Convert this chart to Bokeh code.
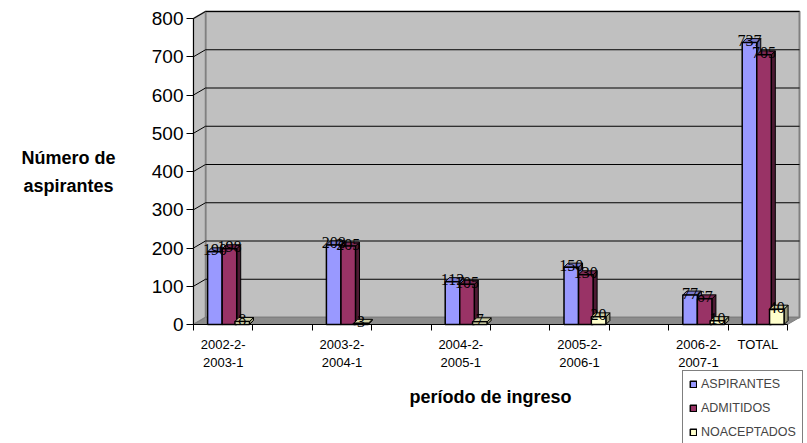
from bokeh.plotting import figure
from bokeh.models import Range1d, FixedTicker, Label, Legend, LegendItem, ColumnDataSource
from bokeh.embed import file_html
from bokeh.resources import INLINE

# ---- data ----
PERIODOS = ["2002-2-\n2003-1", "2003-2-\n2004-1", "2004-2-\n2005-1",
            "2005-2-\n2006-1", "2006-2-\n2007-1", "TOTAL"]
ASPIRANTES = [190, 208, 112, 150, 77, 737]
ADMITIDOS = [198, 205, 105, 130, 67, 705]
NOACEPTADOS = [8, 3, 7, 20, 10, 40]
SERIES = ["ASPIRANTES", "ADMITIDOS", "NOACEPTADOS"]
Y_TICKS = [0, 100, 200, 300, 400, 500, 600, 700, 800]

FONT = "Liberation Sans"
FRONT = ["#9999ff", "#993366", "#ffffcc"]
SIDE = ["#5c5c99", "#4d1a33", "#99997a"]
TOPC = ["#7a7acc", "#7a2952", "#cccca3"]

# ---- layout (pixels) ----
W, H = 807, 443
X0_PX, SLOT_PX = 193, 59.4        # page x of category axis start, px per slot
Y0_PX, UNIT_PX = 324, 0.3825      # page y of value 0, px per value unit
DX, DY = 12 / SLOT_PX, 7 / UNIT_PX  # chart depth (3-D look)
BDX, BDY = 4 / SLOT_PX, 4 / UNIT_PX  # bar depth

# category slots: periods separated by an empty slot, TOTAL right after the last period
slots = [2 * i for i in range(len(PERIODOS) - 1)] + [2 * (len(PERIODOS) - 2) + 1]
n_slots = slots[-1] + 1
YMAX = Y_TICKS[-1]

p = figure(width=W, height=H, output_backend="svg", toolbar_location=None,
           x_range=Range1d(-X0_PX / SLOT_PX, (W - X0_PX) / SLOT_PX),
           y_range=Range1d(-(H - Y0_PX) / UNIT_PX, Y0_PX / UNIT_PX),
           min_border=0)
p.background_fill_color = "white"
p.border_fill_color = "white"
p.outline_line_color = None
p.xgrid.visible = False
p.ygrid.visible = False

# walls and floor
p.quad(left=[DX], right=[n_slots + DX], bottom=[DY], top=[YMAX + DY],
       fill_color="#c0c0c0", line_color="#808080", line_width=2)
p.patch(x=[0, DX, DX, 0], y=[0, DY, YMAX + DY, YMAX],
        fill_color="#c0c0c0", line_color="#808080", line_width=1.5)
p.patch(x=[0, DX, n_slots + DX, n_slots], y=[0, DY, DY, 0],
        fill_color="#8c8c8c", line_color="#808080", line_width=1)
gt = Y_TICKS[1:]
p.segment(x0=[DX] * len(gt), y0=[t + DY for t in gt], x1=[n_slots + DX] * len(gt),
          y1=[t + DY for t in gt], line_color="black", line_width=1)
p.segment(x0=[0] * len(gt), y0=gt, x1=[DX] * len(gt), y1=[t + DY for t in gt],
          line_color="black", line_width=1)

bw = 0.245
offsets = [0.36, 0.605, 0.82]
renderers = []
sources = []
for k, vals in enumerate([ASPIRANTES, ADMITIDOS, NOACEPTADOS]):
    xs = [s + offsets[k] for s in slots]
    side_x = [[x + bw / 2, x + bw / 2 + BDX, x + bw / 2 + BDX, x + bw / 2] for x in xs]
    side_y = [[0, BDY, v + BDY, v] for v in vals]
    top_x = [[x - bw / 2, x - bw / 2 + BDX, x + bw / 2 + BDX, x + bw / 2] for x in xs]
    top_y = [[v, v + BDY, v + BDY, v] for v in vals]
    p.patches(xs=side_x, ys=side_y, fill_color=SIDE[k], line_color="black", line_width=1)
    p.patches(xs=top_x, ys=top_y, fill_color=TOPC[k], line_color="black", line_width=1)
    src = ColumnDataSource(dict(x=xs, top=vals, lab=[str(v) for v in vals]))
    sources.append(src)
    r = p.vbar(x="x", width=bw, top="top", bottom=0, source=src,
               fill_color=FRONT[k], line_color="black", line_width=1.5)
    renderers.append(r)

# value labels on top of everything
for src in sources:
    p.text(x="x", y="top", text="lab", source=src, text_align="center",
           text_baseline="alphabetic", y_offset=-2, text_font_size="16px",
           text_font=FONT, text_color="black")

# y axis
p.yaxis.fixed_location = 0
p.yaxis.bounds = (0, YMAX)
p.yaxis.ticker = FixedTicker(ticks=Y_TICKS)
p.yaxis.major_label_text_font = FONT
p.yaxis.major_label_text_font_size = "19px"
p.yaxis.major_label_text_color = "black"
p.yaxis.major_label_standoff = 3
p.yaxis.major_tick_out = 7
p.yaxis.major_tick_in = 0
p.yaxis.minor_tick_line_color = None
p.yaxis.axis_line_color = "black"

# x axis
centers = [s + 0.5 for s in slots]
p.xaxis.fixed_location = 0
p.xaxis.bounds = (0, n_slots)
p.xaxis.ticker = FixedTicker(ticks=centers, minor_ticks=list(range(n_slots + 1)))
p.xaxis.major_label_overrides = {c: lab for c, lab in zip(centers, PERIODOS)}
p.xaxis.major_tick_out = 0
p.xaxis.major_tick_in = 0
p.xaxis.minor_tick_out = 6
p.xaxis.minor_tick_in = 0
p.xaxis.minor_tick_line_color = "black"
p.xaxis.axis_line_color = "black"
p.xaxis.major_label_text_font = FONT
p.xaxis.major_label_text_font_size = "13px"
p.xaxis.major_label_text_line_height = 1.2
p.xaxis.major_label_text_color = "black"
p.xaxis.major_label_standoff = 6
p.xaxis.axis_label = "período de ingreso"
p.xaxis.axis_label_text_font = FONT
p.xaxis.axis_label_text_font_size = "18px"
p.xaxis.axis_label_text_font_style = "bold"
p.xaxis.axis_label_text_color = "black"
p.xaxis.axis_label_standoff = 14

ylab = Label(x=68, y=H - 171, x_units="screen", y_units="screen",
             text="Número de\naspirantes", text_align="center", text_baseline="middle",
             text_font=FONT, text_font_size="18px", text_font_style="bold",
             text_line_height=1.4, text_color="black")
p.add_layout(ylab)

legend = Legend(items=[LegendItem(label=s, renderers=[r]) for s, r in zip(SERIES, renderers)],
                location=(682, -3), orientation="vertical",
                label_text_font=FONT, label_text_font_size="12.5px",
                glyph_width=8, glyph_height=8, label_standoff=4, spacing=10,
                label_height=14, padding=6, margin=0,
                border_line_color="black", border_line_width=1, background_fill_alpha=1)
p.add_layout(legend)

open("out.html", "w").write(file_html(p, INLINE))
